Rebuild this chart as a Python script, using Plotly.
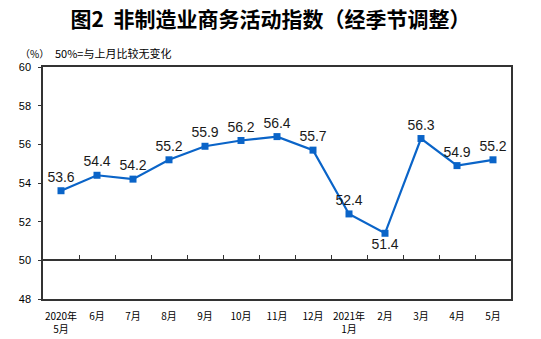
import plotly.graph_objects as go

# Non-manufacturing business activity index, seasonally adjusted (%)
months = ["2020年<br>5月", "6月", "7月", "8月", "9月", "10月", "11月", "12月",
          "2021年<br>1月", "2月", "3月", "4月", "5月"]
index_values = [53.6, 54.4, 54.2, 55.2, 55.9, 56.2, 56.4, 55.7,
                52.4, 51.4, 56.3, 54.9, 55.2]
label_positions = ["top center"] * len(months)
label_positions[9] = "bottom center"

y_ticks = [48, 50, 52, 54, 56, 58, 60]

line_color = "#0A64C8"
axis_color = "#333333"
cjk = "Noto Sans CJK SC"
latin = "Liberation Sans, Arial"

fig = go.Figure()

fig.add_trace(go.Scatter(
    x=months, y=index_values,
    mode="lines+markers+text",
    line=dict(color=line_color, width=2.2),
    marker=dict(symbol="square", size=7, color=line_color),
    text=[f"{v:.1f}" for v in index_values],
    textposition=label_positions,
    textfont=dict(family=latin, size=14, color="#1a1a1a"),
    cliponaxis=False,
    hoverinfo="skip",
    showlegend=False,
))

# invisible trace that carries the 50% reference axis
fig.add_trace(go.Scatter(
    x=months, y=[50] * len(months), xaxis="x2", mode="lines",
    line=dict(width=0), hoverinfo="skip", showlegend=False,
))

fig.update_layout(
    width=541, height=339,
    margin=dict(l=43, r=30, t=67, b=40),
    paper_bgcolor="white", plot_bgcolor="white",
    title=dict(
        text="图2  非制造业商务活动指数（经季节调整）",
        x=0.5, xanchor="center", y=1 - 20 / 339, yanchor="middle",
        font=dict(family=cjk, size=21, color="#000000", weight="bold"),
    ),
    xaxis=dict(
        type="category", range=[-0.5, 12.5], automargin=False,
        showline=True, linecolor=axis_color, linewidth=1.5, mirror=True,
        ticks="", showgrid=False, zeroline=False,
        ticklabelstandoff=7,
        tickfont=dict(family=cjk, size=10, color="#000000"),
    ),
    xaxis2=dict(
        type="category", range=[-0.5, 12.5], overlaying="x",
        anchor="free", position=(50 - 48) / (60 - 48), side="bottom",
        automargin=False,
        showline=True, linecolor=axis_color, linewidth=1.5,
        ticks="inside", tickson="boundaries", ticklen=5,
        tickcolor=axis_color, tickwidth=1,
        showticklabels=False, showgrid=False, zeroline=False,
    ),
    yaxis=dict(
        range=[48, 60], tickvals=y_ticks, automargin=False,
        showline=True, linecolor=axis_color, linewidth=1.5, mirror=True,
        ticks="outside", ticklen=3, tickcolor=axis_color,
        showgrid=False, zeroline=False,
        ticklabelstandoff=5,
        tickfont=dict(family=latin, size=11, color="#000000"),
    ),
)

# header notes above the plot, positioned in pixels
plot_w = 541 - 43 - 30
plot_h = 339 - 67 - 40
notes = [("（%）", 18, 10), ("50%=与上月比较无变化", 53, 11)]
for text, px, size in notes:
    fig.add_annotation(
        text=text, xref="paper", yref="paper",
        x=(px - 43) / plot_w, xanchor="left",
        y=(339 - 40 - 53) / plot_h, yanchor="middle",
        showarrow=False, font=dict(family=cjk, size=size, color="#000000"),
    )

fig.write_html("out.html")
